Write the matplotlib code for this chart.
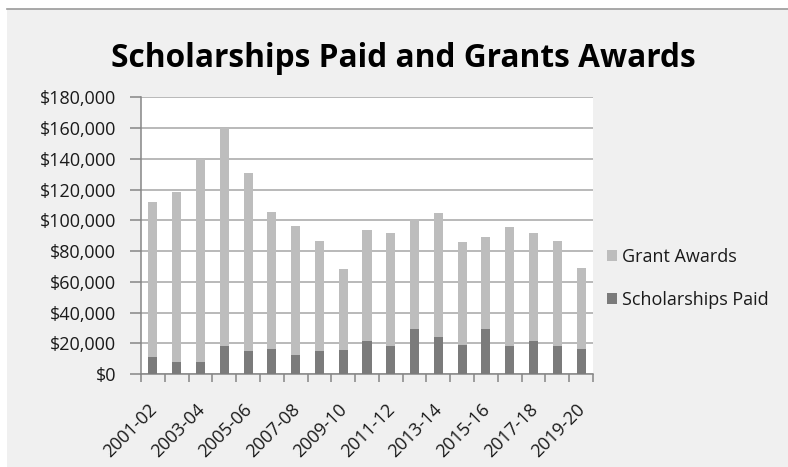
import numpy as np
import matplotlib.pyplot as plt
import matplotlib.transforms as mtransforms
from matplotlib.patches import Rectangle
from matplotlib.lines import Line2D
from matplotlib.ticker import FuncFormatter, MultipleLocator

years = ['2001-02', '2002-03', '2003-04', '2004-05', '2005-06', '2006-07',
         '2007-08', '2008-09', '2009-10', '2010-11', '2011-12', '2012-13',
         '2013-14', '2014-15', '2015-16', '2016-17', '2017-18', '2018-19',
         '2019-20']
totals = [112000, 118500, 140000, 160000, 131000, 105500, 96500, 86500,
          68500, 94000, 91500, 101000, 105000, 86000, 89000, 95500, 91500,
          86500, 69000]
scholarships = [11000, 8000, 7500, 18500, 15000, 16500, 12500, 15000, 15500,
                21500, 18500, 29000, 24000, 19000, 29000, 18500, 21500,
                18500, 16500]
grants = [t - s for t, s in zip(totals, scholarships)]

bg = '#f0f0f0'
grid_col = '#a6a6a6'
axis_col = '#868686'
txt_col = '#1a1a1a'

fig = plt.figure(figsize=(7.88, 4.67), dpi=100, facecolor='white')
fig.patches.append(Rectangle((7 / 788, 0), 1, 1 - 9 / 467, transform=fig.transFigure,
                             facecolor=bg, edgecolor='none', zorder=-10))
fig.lines.append(Line2D([7 / 788, 1], [1 - 9 / 467, 1 - 9 / 467], transform=fig.transFigure,
                        color='#9a9a9a', lw=1.2))

ax = fig.add_axes([141 / 788, 1 - 374 / 467, 452 / 788, (374 - 97.3) / 467])
ax.set_facecolor('white')

x = np.arange(len(years))
w = 0.38
ax.bar(x, scholarships, w, color='#7b7b7b', label='Scholarships Paid', zorder=3)
ax.bar(x, grants, w, bottom=scholarships, color='#bdbdbd', label='Grant Awards', zorder=3)

ax.set_xlim(-0.5, len(years) - 0.5)
ax.set_ylim(0, 180000)
ax.yaxis.set_major_locator(MultipleLocator(20000))
ax.yaxis.set_major_formatter(FuncFormatter(lambda v, p: f'${v:,.0f}'))
ax.grid(axis='y', color=grid_col, lw=1.1, zorder=0)

for s in ['top', 'right']:
    ax.spines[s].set_visible(False)
for s in ['left', 'bottom']:
    ax.spines[s].set_color(axis_col)
    ax.spines[s].set_linewidth(1.1)

ax.set_xticks(x[::2])
ax.set_xticklabels(years[::2], rotation=45, ha='right', rotation_mode='anchor',
                   fontsize=13, family='Open Sans', color=txt_col)
ax.set_xticks(np.arange(-0.5, len(years)), minor=True)
ax.tick_params(axis='x', which='major', length=0, pad=11)
ax.tick_params(axis='x', which='minor', length=6, color=axis_col, width=1.1)
ax.tick_params(axis='y', length=8, color=axis_col, width=1.1, pad=10,
               labelsize=13, labelcolor=txt_col)
for lab in ax.get_yticklabels():
    lab.set_family('Open Sans')

# nudge rotated labels left and down
shift = mtransforms.ScaledTranslation(-5 / 100, -11 / 100, fig.dpi_scale_trans)
for lab in ax.get_xticklabels():
    lab.set_transform(lab.get_transform() + shift)

fig.text(403 / 788, 1 - 67 / 467, 'Scholarships Paid and Grants Awards', ha='center',
         va='baseline', fontsize=22.8, fontweight='bold', family='Open Sans', color='black')

handles, labels = ax.get_legend_handles_labels()
leg = fig.legend(handles[::-1], labels[::-1], loc='center left',
                 bbox_to_anchor=(607 / 788, 1 - 278.5 / 467), frameon=False,
                 prop={'family': 'Open Sans', 'size': 13}, labelspacing=1.35,
                 borderpad=0, borderaxespad=0, handlelength=0.55, handleheight=0.55,
                 handletextpad=0.3)
for t in leg.get_texts():
    t.set_color(txt_col)

fig.savefig('out.png', dpi=100, facecolor=fig.get_facecolor())
